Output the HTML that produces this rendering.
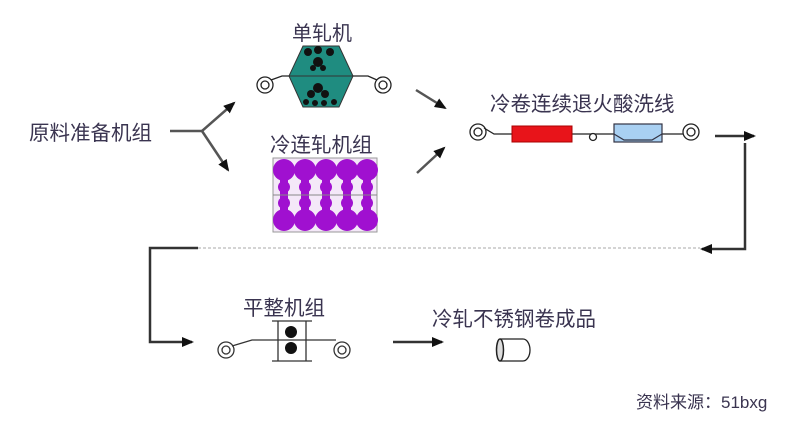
<!DOCTYPE html>
<html><head><meta charset="utf-8"><style>
html,body{margin:0;padding:0;background:#fff;}
svg{display:block}
text{font-family:"Liberation Sans","Noto Sans CJK SC",sans-serif;fill:#3a3450}
</style></head><body>
<svg width="812" height="440" viewBox="0 0 812 440" xmlns="http://www.w3.org/2000/svg">
<defs>
<marker id="ah2" markerWidth="12" markerHeight="10" refX="10" refY="5" orient="auto" markerUnits="userSpaceOnUse">
<path d="M0,0 L12,5 L0,10 z" fill="#111"/></marker>
</defs>
<rect width="812" height="440" fill="#fff"/>

<text x="29" y="140" font-size="20.5">原料准备机组</text>
<g stroke="#555" stroke-width="2.5" fill="none">
<line x1="170" y1="131" x2="202" y2="131"/>
<line x1="202" y1="131" x2="234" y2="103" marker-end="url(#ah2)"/>
<line x1="202" y1="131" x2="228" y2="170" marker-end="url(#ah2)"/>
</g>

<text x="292" y="40" font-size="20">单轧机</text>
<polygon points="303,46 339,46 353,76 339,107 303,107 289,76" fill="#1f8c80" stroke="#333" stroke-width="1"/>
<line x1="289" y1="76" x2="353" y2="76" stroke="#333" stroke-width="1"/>
<g fill="#111">
<circle cx="308" cy="52" r="4"/><circle cx="318" cy="50" r="4"/><circle cx="330" cy="52" r="4"/>
<circle cx="318" cy="62" r="5"/><circle cx="313" cy="68" r="3"/><circle cx="323" cy="68" r="3"/>
<circle cx="318" cy="88" r="5"/><circle cx="311" cy="94" r="4"/><circle cx="325" cy="94" r="4"/>
<circle cx="306" cy="102" r="3"/><circle cx="315" cy="103" r="3"/><circle cx="324" cy="103" r="3"/><circle cx="334" cy="102" r="3"/>
</g>
<g stroke="#222" stroke-width="1.3" fill="none">
<circle cx="265" cy="85" r="8"/><circle cx="265" cy="85" r="4"/>
<circle cx="383" cy="85" r="8"/><circle cx="383" cy="85" r="4"/>
<path d="M271,80 L282,76 L289,76"/><path d="M353,76 L368,76 L377,80"/>
</g>

<text x="270" y="152" font-size="20.5">冷连轧机组</text>
<rect x="273" y="158" width="104" height="74" fill="#f4e8f8" stroke="#999" stroke-width="1"/>
<g fill="#a010d0">
<circle cx="284" cy="170" r="11"/><circle cx="305" cy="170" r="11"/><circle cx="326" cy="170" r="11"/><circle cx="347" cy="170" r="11"/><circle cx="367" cy="170" r="11"/>
<circle cx="284" cy="220" r="11"/><circle cx="305" cy="220" r="11"/><circle cx="326" cy="220" r="11"/><circle cx="347" cy="220" r="11"/><circle cx="367" cy="220" r="11"/>
<circle cx="284" cy="187" r="6"/><circle cx="305" cy="187" r="6"/><circle cx="326" cy="187" r="6"/><circle cx="347" cy="187" r="6"/><circle cx="367" cy="187" r="6"/>
<circle cx="284" cy="203" r="6"/><circle cx="305" cy="203" r="6"/><circle cx="326" cy="203" r="6"/><circle cx="347" cy="203" r="6"/><circle cx="367" cy="203" r="6"/>
<rect x="280" y="170" width="8" height="50"/><rect x="301" y="170" width="8" height="50"/><rect x="322" y="170" width="8" height="50"/><rect x="343" y="170" width="8" height="50"/><rect x="363" y="170" width="8" height="50"/>
</g>
<line x1="273" y1="195" x2="377" y2="195" stroke="#888" stroke-width="1"/>

<g stroke="#555" stroke-width="2.5">
<line x1="416" y1="90" x2="445" y2="108" marker-end="url(#ah2)"/>
<line x1="417" y1="173" x2="444" y2="148" marker-end="url(#ah2)"/>
</g>

<text x="490" y="111" font-size="20.5">冷卷连续退火酸洗线</text>
<g stroke="#222" stroke-width="1.3" fill="none">
<circle cx="478" cy="132" r="8"/><circle cx="478" cy="132" r="4"/>
<circle cx="691" cy="132" r="8"/><circle cx="691" cy="132" r="4"/>
<path d="M484,128 L494,134 L683,134"/>
<circle cx="593" cy="137" r="3.5" fill="#fff"/>
</g>
<rect x="512" y="126" width="60" height="16" fill="#e8141a" stroke="#a00" stroke-width="1"/>
<rect x="614" y="124" width="48" height="18" fill="#a9d0f2" stroke="#334" stroke-width="1.2"/>
<path d="M614,134 L624,140 L652,140 L662,134" stroke="#334" stroke-width="1.2" fill="none"/>

<g stroke="#333" stroke-width="2.5" fill="none">
<line x1="715" y1="136" x2="754" y2="136" marker-end="url(#ah2)"/>
<polyline points="745,143 745,249 702,249" marker-end="url(#ah2)"/>
<line x1="198" y1="248" x2="700" y2="248" stroke="#aaa" stroke-width="1" stroke-dasharray="3,2"/>
<polyline points="198,248 150,248 150,342 192,342" marker-end="url(#ah2)"/>
<line x1="393" y1="342" x2="442" y2="342" marker-end="url(#ah2)"/>
</g>

<text x="243" y="315" font-size="20.5">平整机组</text>
<g stroke="#333" stroke-width="1.3" fill="none">
<line x1="272" y1="321" x2="312" y2="321"/><line x1="272" y1="361" x2="312" y2="361"/>
<line x1="278" y1="321" x2="278" y2="361"/><line x1="306" y1="321" x2="306" y2="361"/>
<path d="M232,346 L252,340 L336,340"/>
<circle cx="226" cy="350" r="8"/><circle cx="226" cy="350" r="4"/>
<circle cx="342" cy="350" r="8"/><circle cx="342" cy="350" r="4"/>
</g>
<circle cx="291" cy="332" r="6" fill="#111"/><circle cx="291" cy="348" r="6" fill="#111"/>

<text x="432" y="326" font-size="20.5">冷轧不锈钢卷成品</text>
<path d="M500,339 L523,339 A7,11 0 0 1 523,361 L500,361" stroke="#222" stroke-width="1.3" fill="none"/>
<ellipse cx="500" cy="350" rx="3.5" ry="11" stroke="#222" stroke-width="1.5" fill="#ddd"/>

<text x="636" y="408" font-size="17" fill="#555">资料来源：51bxg</text>
</svg>
</body></html>
